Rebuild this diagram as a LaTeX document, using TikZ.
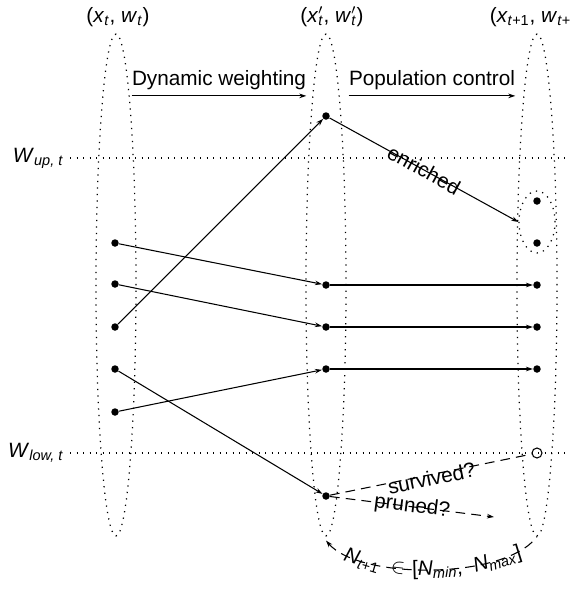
\documentclass[tikz,border=0pt]{standalone}
\usepackage{fontspec}
\setmainfont{Liberation Sans}
\usetikzlibrary{arrows.meta,positioning,shapes.geometric}

\newcommand{\sbx}[2]{\textit{#1}\textsubscript{#2}}
\newcommand{\sbxp}[2]{\textit{#1}\rlap{\textsuperscript{$\prime$}}\textsubscript{#2}}

\begin{document}
\begin{tikzpicture}[x=0.02cm, y=-0.02cm, font=\fontsize{11.8}{14}\selectfont,
  popLine/.style={line width=0.7pt, dash pattern=on 0.7pt off 3pt},
  pop/.style={ellipse, draw, popLine, inner sep=0pt, minimum width=0.8cm, minimum height=10.04cm},
  smallPop/.style={ellipse, draw, popLine, inner sep=0pt, minimum width=0.72cm, minimum height=1.24cm},
  level/.style={popLine},
  dot/.style={circle, fill, inner sep=0pt, minimum size=0.15cm},
  openDot/.style={circle, draw, line width=0.6pt, inner sep=0pt, minimum size=0.2cm},
  tip/.style={-{Stealth[length=4pt,width=2.6pt]}},
  flow/.style={tip, line width=0.6pt},
  guess/.style={line width=0.6pt, dash pattern=on 5.5pt off 3.5pt}]
  \useasboundingbox (0,0) rectangle (570,596);
  \clip (0,0) rectangle (570,596);

  \node[pop] (popT) at (116,285) {};
  \node[pop] (popM) at (326,285) {};
  \node[pop] (popN) at (537,285) {};
  \node (headT) at (118,17) {(\sbx{x}{\textit{t}}, \sbx{w}{\textit{t}})};
  \node (headM) at (332,17) {(\sbxp{x}{\textit{t}}, \sbxp{w}{\textit{t}})};
  \node (headN) at (538,17) {(\sbx{x}{\textit{t}+1}, \sbx{w}{\textit{t}+1})};

  \node[inner xsep=0pt] (dw) at (219,80) {Dynamic weighting};
  \node[inner xsep=0pt] (pc) at (432,80) {Population control};
  \draw[flow] (dw.south west) -- (dw.south east);
  \draw[flow] (pc.south west) -- (pc.south east);

  \node[anchor=east] (wUp) at (70,158) {\sbx{W}{\textit{up, t}}};
  \node[anchor=east] (wLow) at (70,453) {\sbx{W}{\textit{low, t}}};
  \coordinate (upEnd) at (570,158);
  \coordinate (lowEnd) at (570,453);
  \draw[level] (wUp.east) -- (upEnd);
  \draw[level] (wLow.east) -- (lowEnd);

  \node[dot] (l1) at (115,243) {};
  \node[dot] (l2) at (115,284) {};
  \node[dot] (l3) at (115,327) {};
  \node[dot] (l4) at (115,369) {};
  \node[dot] (l5) at (115,412) {};
  \node[dot] (m0) at (326,116) {};
  \node[dot] (m1) at (326,285) {};
  \node[dot] (m2) at (326,327) {};
  \node[dot] (m3) at (326,369) {};
  \node[dot] (m4) at (326,496) {};
  \node[dot] (r1) at (537,201) {};
  \node[dot] (r2) at (537,243) {};
  \node[dot] (r3) at (537,285) {};
  \node[dot] (r4) at (537,327) {};
  \node[dot] (r5) at (537,369) {};
  \node[openDot] (rLost) at (537,453) {};
  \node[smallPop] (rich) at (537,222) {};

  \draw[flow] (l1) -- (m1);
  \draw[flow] (l2) -- (m2);
  \draw[flow] (l3) -- (m0);
  \draw[flow] (l4) -- (m4);
  \draw[flow] (l5) -- (m3);
  \draw[flow] (m0) -- node[sloped] {enriched} (rich.west);
  \draw[flow] (m1) -- (r3);
  \draw[flow] (m2) -- (r4);
  \draw[flow] (m3) -- (r5);

  \coordinate (prunedEnd) at (494,517);
  \draw[guess] (m4) -- node[sloped, yshift=-2pt] {survived?} (rLost);
  \draw[guess, tip] (m4) -- node[sloped] {pruned?} (prunedEnd);
  \draw[guess, {Stealth[length=4pt,width=2.6pt]}-] ([yshift=-0.08cm]popM.south)
    .. controls (360,580) and (505,580) .. (popN.south)
    node[pos=0.22, sloped] {\sbx{N}{\textit{t}+1}}
    node[pos=0.37, sloped] {$\in$}
    node[pos=0.52, sloped] {[\sbx{N}{\textit{min}},}
    node[pos=0.76, sloped] {\sbx{N}{\textit{max}}]};
\end{tikzpicture}
\end{document}
